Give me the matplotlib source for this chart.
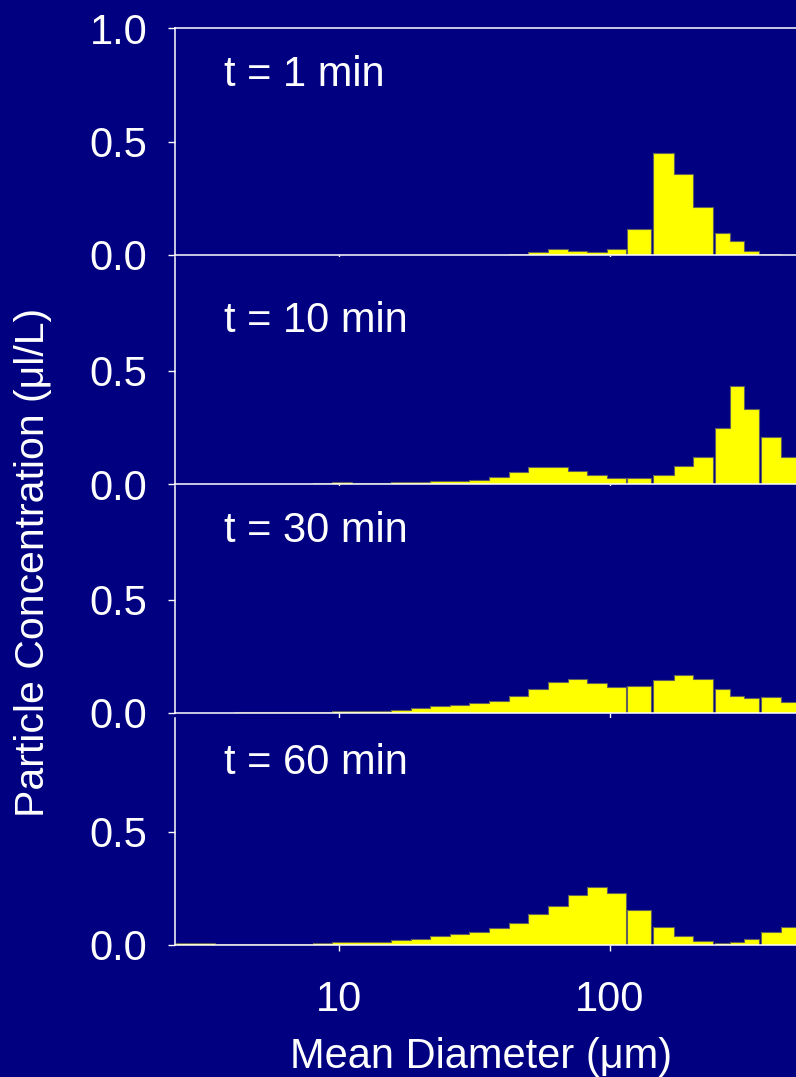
import numpy as np
import matplotlib
matplotlib.use('Agg')
import matplotlib.pyplot as plt

plt.rcParams['font.family'] = ['Liberation Sans', 'DejaVu Sans']

NAVY = '#000080'
BAR = '#ffff00'

# size bins (um): 23 narrow log bins followed by 9 wider bins
bin_lo = [2.50, 2.95, 3.49, 4.12, 4.86, 5.74, 6.78, 8.01, 9.46, 11.2, 13.2, 15.6,
          18.4, 21.7, 25.7, 30.3, 35.8, 42.3, 49.9, 59.0, 69.7, 82.3, 97.2,
          115.5, 144.1, 172.3, 202.5, 244.0, 277.3, 312.3, 360.7, 427.6]
bin_hi = [2.95, 3.49, 4.12, 4.86, 5.74, 6.78, 8.01, 9.46, 11.2, 13.2, 15.6, 18.4,
          21.7, 25.7, 30.3, 35.8, 42.3, 49.9, 59.0, 69.7, 82.3, 97.2, 114.7,
          141.7, 172.3, 202.5, 239.9, 277.3, 312.3, 354.6, 427.6, 510.0]

labels = ['t = 1 min', 't = 10 min', 't = 30 min', 't = 60 min']

conc_1 = [0, 0, 0, 0, 0, 0, 0, 0, 0, 0, 0, 0,
          0, 0, 0, 0, 0, 0.006, 0.013, 0.028, 0.018, 0.015, 0.025,
          0.116, 0.449, 0.357, 0.211, 0.098, 0.063, 0.016, 0.006, 0.0]
conc_10 = [0, 0, 0, 0, 0, 0, 0.001, 0.003, 0.007, 0.003, 0.003, 0.007,
           0.010, 0.013, 0.013, 0.018, 0.029, 0.053, 0.073, 0.073, 0.056, 0.040, 0.025,
           0.028, 0.038, 0.078, 0.120, 0.245, 0.430, 0.330, 0.205, 0.118]
conc_30 = [0, 0, 0, 0.003, 0.003, 0.003, 0.003, 0.006, 0.010, 0.007, 0.010, 0.015,
           0.021, 0.031, 0.035, 0.043, 0.054, 0.075, 0.106, 0.137, 0.148, 0.134, 0.113,
           0.119, 0.144, 0.169, 0.150, 0.104, 0.073, 0.068, 0.070, 0.050]
conc_60 = [0.007, 0.007, 0.004, 0.004, 0.004, 0.004, 0.004, 0.010, 0.013, 0.012, 0.015, 0.021,
           0.026, 0.038, 0.047, 0.057, 0.075, 0.098, 0.137, 0.172, 0.219, 0.256, 0.228,
           0.156, 0.081, 0.038, 0.019, 0.009, 0.013, 0.028, 0.056, 0.078]
series = [conc_1, conc_10, conc_30, conc_60]

W, H = 796, 1077
fig = plt.figure(figsize=(W / 100, H / 100), dpi=100, facecolor=NAVY)

# panel extents in pixels (top, bottom)
panels_px = [(28, 255), (257, 484), (486, 713), (718, 945)]
label_y = [0.745, 0.67, 0.753, 0.753]
left = 175 / W

lo = np.array(bin_lo)
hi = np.array(bin_hi)

# split bins into runs of touching bins, for the outline
runs = []
start = 0
for k in range(1, len(lo)):
    if abs(lo[k] - hi[k - 1]) > 1e-6:
        runs.append((start, k))
        start = k
runs.append((start, len(lo)))

for i, (top, bot) in enumerate(panels_px):
    ax = fig.add_axes([left, 1 - bot / H, 1 - left, (bot - top) / H])
    ax.set_facecolor(NAVY)
    vals = np.array(series[i])
    ax.bar(lo, vals, width=hi - lo, align='edge', color=BAR, linewidth=0)
    for a, b in runs:
        edges = np.append(lo[a:b], hi[b - 1])
        ax.stairs(vals[a:b], edges, baseline=0, color='#606060', linewidth=0.8)
    ax.set_xscale('log')
    ax.set_xlim(10 ** (1 + (175 - 339) / 271), 10 ** (1 + (796 - 339) / 271))
    ax.set_ylim(0, 1.0)
    for s in ['left', 'bottom', 'top']:
        ax.spines[s].set_color('white')
        ax.spines[s].set_linewidth(1.1)
    ax.spines['right'].set_visible(False)
    ax.spines['top'].set_visible(i == 0)
    ax.set_yticks([0, 0.5, 1.0] if i == 0 else [0, 0.5])
    ax.set_yticklabels(['0.0', '0.5', '1.0'] if i == 0 else ['0.0', '0.5'])
    ax.set_xticks([10, 100])
    ax.xaxis.set_minor_locator(matplotlib.ticker.NullLocator())
    if i == 3:
        ax.set_xticklabels(['10', '100'])
    else:
        ax.set_xticklabels([])
    ax.tick_params(axis='y', direction='out', length=5, width=1, color='white',
                   labelcolor='white', labelsize=30, pad=15)
    ax.tick_params(axis='x', direction='out', length=4, width=1, color='white',
                   labelcolor='white', labelsize=30, pad=21)
    ax.text(0.079, label_y[i], labels[i], transform=ax.transAxes, color='white',
            fontsize=30, ha='left', va='baseline')

fig.text(481 / W, 1 - 1068 / H, 'Mean Diameter (μm)', color='white', fontsize=30,
         ha='center', va='baseline')
fig.text(44.5 / W, 0.478, 'Particle Concentration (μl/L)', color='white', fontsize=29.5,
         rotation=90, rotation_mode='anchor', ha='center', va='baseline')

fig.savefig('out.png', dpi=100, facecolor=NAVY)
